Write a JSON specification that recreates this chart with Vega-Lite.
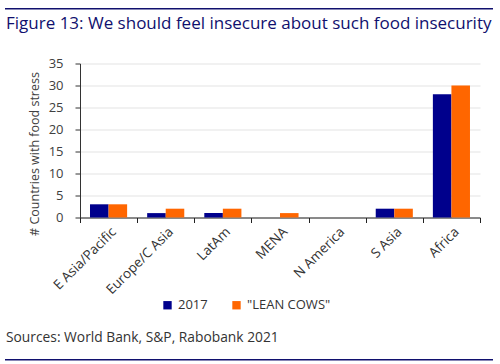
{
  "$schema": "https://vega.github.io/schema/vega-lite/v6.json",
  "padding": {"left": 5, "top": 6, "right": 2, "bottom": 2},
  "background": "white",
  "config": {
    "font": "Open Sans",
    "view": {"stroke": null},
    "title": {"font": "Open Sans", "fontWeight": "normal"}
  },
  "datasets": {
    "bars": [
      {"region": "E Asia/Pacific", "series": "2017", "value": 3},
      {"region": "E Asia/Pacific", "series": "\"LEAN COWS\"", "value": 3},
      {"region": "Europe/C Asia", "series": "2017", "value": 1},
      {"region": "Europe/C Asia", "series": "\"LEAN COWS\"", "value": 2},
      {"region": "LatAm", "series": "2017", "value": 1},
      {"region": "LatAm", "series": "\"LEAN COWS\"", "value": 2},
      {"region": "MENA", "series": "2017", "value": 0},
      {"region": "MENA", "series": "\"LEAN COWS\"", "value": 1},
      {"region": "N America", "series": "2017", "value": 0},
      {"region": "N America", "series": "\"LEAN COWS\"", "value": 0},
      {"region": "S Asia", "series": "2017", "value": 2},
      {"region": "S Asia", "series": "\"LEAN COWS\"", "value": 2},
      {"region": "Africa", "series": "2017", "value": 28},
      {"region": "Africa", "series": "\"LEAN COWS\"", "value": 30}
    ],
    "line": [{"a": 0, "b": 1}]
  },
  "spacing": 14.5,
  "resolve": {"scale": {"x": "independent", "y": "independent", "color": "independent"}, "legend": {"color": "independent"}},
  "vconcat": [
    {
      "width": 488,
      "height": 8,
      "data": {"name": "line"},
      "title": {
        "text": "Figure 13: We should feel insecure about such food insecurity",
        "subtitle": " ",
        "subtitleFontSize": 8,
        "subtitlePadding": 2,
        "orient": "bottom",
        "anchor": "start",
        "frame": "group",
        "dx": -74,
        "offset": 2,
        "fontSize": 17,
        "color": "#10106e"
      },
      "mark": {"type": "rect", "color": "#10106e"},
      "encoding": {
        "x": {"field": "a", "type": "quantitative", "scale": {"domain": [0, 1], "range": [-75, 413]}, "axis": null},
        "x2": {"field": "b"},
        "y": {"field": "a", "type": "quantitative", "scale": {"domain": [0, 1], "range": [3.5, 2]}, "axis": null},
        "y2": {"field": "b"}
      }
    },
    {
      "width": 400,
      "height": 154,
      "data": {"name": "bars"},
      "title": {
        "text": "Sources: World Bank, S&P, Rabobank 2021",
        "orient": "bottom",
        "anchor": "start",
        "frame": "group",
        "dx": -74,
        "offset": 18,
        "fontSize": 13.8,
        "color": "#333333"
      },
      "mark": {"type": "bar"},
      "encoding": {
        "x": {
          "field": "region",
          "type": "nominal",
          "sort": ["E Asia/Pacific", "Europe/C Asia", "LatAm", "MENA", "N America", "S Asia", "Africa"],
          "scale": {"paddingInner": 0, "paddingOuter": 0},
          "axis": {
            "title": null,
            "labelAngle": -45,
            "labelFontSize": 13.5,
            "labelColor": "#333333",
            "tickBand": "extent",
            "tickSize": 5,
            "tickColor": "#222222",
            "domainColor": "#222222",
            "labelPadding": 2,
            "grid": false
          }
        },
        "xOffset": {
          "field": "series",
          "type": "nominal",
          "sort": ["2017", "\"LEAN COWS\""],
          "scale": {"paddingInner": 0, "paddingOuter": 0.54}
        },
        "y": {
          "field": "value",
          "type": "quantitative",
          "scale": {"domain": [0, 35], "nice": false},
          "axis": {
            "title": "# Countries with food stress",
            "titleFontSize": 12.5,
            "titleFontWeight": "normal",
            "titleColor": "#404040",
            "titlePadding": 7,
            "titleY": 90,
            "values": [0, 5, 10, 15, 20, 25, 30, 35],
            "labelFontSize": 13,
            "labelColor": "#404040",
            "labelPadding": 12,
            "tickSize": 5,
            "tickColor": "#333333",
            "domainColor": "#333333",
            "gridColor": "#dcdcdc",
            "gridWidth": 0.8
          }
        },
        "color": {
          "field": "series",
          "type": "nominal",
          "scale": {"domain": ["2017", "\"LEAN COWS\""], "range": ["#00008c", "#ff6600"]},
          "legend": {
            "title": null,
            "orient": "none",
            "legendX": 81,
            "legendY": 235,
            "direction": "horizontal",
            "symbolType": "square",
            "symbolSize": 70,
            "symbolStrokeWidth": 0,
            "labelFontSize": 13,
            "labelColor": "#333333",
            "labelOffset": 4,
            "columnPadding": 22
          }
        }
      }
    },
    {
      "width": 488,
      "height": 1.5,
      "data": {"name": "line"},
      "mark": {"type": "rect", "color": "#10106e"},
      "encoding": {
        "x": {"field": "a", "type": "quantitative", "scale": {"domain": [0, 1], "range": [-75, 413]}, "axis": null},
        "x2": {"field": "b"},
        "y": {"field": "a", "type": "quantitative", "scale": {"domain": [0, 1]}, "axis": null},
        "y2": {"field": "b"}
      }
    }
  ]
}
